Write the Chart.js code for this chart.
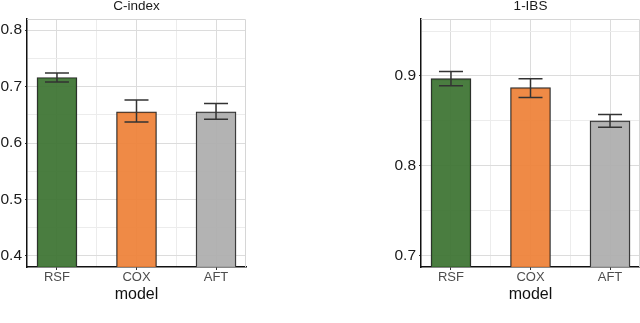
<!DOCTYPE html>
<html>
<head>
<meta charset="utf-8">
<script src="https://cdn.jsdelivr.net/npm/chart.js@4/dist/chart.umd.min.js"></script>
<style>
  html, body { margin: 0; padding: 0; background: #fff; }
  #wrap { position: relative; width: 640px; height: 323px; overflow: hidden; }
  .box { position: absolute; top: 0; height: 323px; }
  #left { left: 0; width: 260px; }
  #right { left: 380px; width: 260px; }
</style>
</head>
<body>
<div id="wrap">
  <div class="box" id="left"><canvas id="cindexChart"></canvas></div>
  <div class="box" id="right"><canvas id="ibsChart"></canvas></div>
</div>
<script>
const models = ["RSF", "COX", "AFT"];
const barColors = ["rgba(60,115,50,0.93)", "rgba(238,129,56,0.93)", "rgba(173,173,173,0.93)"];

const cindexMean = [0.716, 0.655, 0.655];
const cindexLow = [0.708, 0.637, 0.642];
const cindexHigh = [0.724, 0.676, 0.670];
const cindexTicks = [0.4, 0.45, 0.5, 0.55, 0.6, 0.65, 0.7, 0.75, 0.8];

const ibsMean = [0.897, 0.887, 0.850];
const ibsLow = [0.889, 0.876, 0.843];
const ibsHigh = [0.905, 0.897, 0.857];
const ibsTicks = [0.7, 0.75, 0.8, 0.85, 0.9, 0.95];

const xTicks = [0, 0.5, 1, 1.5, 2];
const FONT = "'Liberation Sans', Arial, sans-serif";

const isMajor = (v) => Math.abs(v * 10 - Math.round(v * 10)) < 1e-6;
const isWhole = (v) => Math.abs(v - Math.round(v)) < 1e-6;
const tickVal = (c) => (c && c.tick ? c.tick.value : 0);

// light panel border on top / right
const panelBorder = {
  id: "panelBorder",
  beforeDatasetsDraw(chart) {
    const { ctx, chartArea: a } = chart;
    ctx.save();
    ctx.strokeStyle = "#d6d6d6";
    ctx.lineWidth = 1;
    ctx.beginPath();
    ctx.moveTo(a.left, a.top + 0.5);
    ctx.lineTo(a.right - 0.5, a.top + 0.5);
    ctx.lineTo(a.right - 0.5, a.bottom);
    ctx.stroke();
    ctx.restore();
  },
};

// error bars from the low/high arrays
const errorBars = {
  id: "errorBars",
  afterDatasetsDraw(chart, args, opts) {
    const { ctx, scales } = chart;
    ctx.save();
    ctx.strokeStyle = "#333";
    ctx.lineWidth = 1.5;
    opts.low.forEach((lo, i) => {
      const x = scales.x.getPixelForValue(i);
      const y1 = scales.y.getPixelForValue(lo);
      const y2 = scales.y.getPixelForValue(opts.high[i]);
      ctx.beginPath();
      ctx.moveTo(x, y1);
      ctx.lineTo(x, y2);
      ctx.moveTo(x - 12, y1);
      ctx.lineTo(x + 12, y1);
      ctx.moveTo(x - 12, y2);
      ctx.lineTo(x + 12, y2);
      ctx.stroke();
    });
    ctx.restore();
  },
};

function makeChart(id, title, mean, low, high, yTicks, yMin, yMax, yWidth, padRight) {
  new Chart(document.getElementById(id), {
    type: "bar",
    data: {
      datasets: [
        {
          data: mean.map((v, i) => ({ x: i, y: v })),
          backgroundColor: barColors,
          borderColor: "#2b2b2b",
          borderWidth: 1.2,
          barThickness: 40,
          base: yMin,
        },
      ],
    },
    options: {
      responsive: true,
      maintainAspectRatio: false,
      animation: false,
      layout: { padding: { left: 0, right: padRight, top: 0, bottom: 0 } },
      plugins: {
        legend: { display: false },
        tooltip: { enabled: false },
        errorBars: { low, high },
      },
      scales: {
        x: {
          type: "linear",
          offset: false,
          min: -0.377,
          max: 2.377,
          afterBuildTicks: (s) => { s.ticks = xTicks.map((v) => ({ value: v })); },
          afterFit: (s) => { s.height = 56; },
          ticks: {
            autoSkip: false,
            padding: 0,
            color: "#4d4d4d",
            font: { family: FONT, size: 13 },
            callback: (v) => (isWhole(v) ? models[Math.round(v)] : ""),
          },
          grid: {
            offset: false,
            color: (c) => (isWhole(tickVal(c)) ? "#dcdcdc" : "#ececec"),
            tickColor: (c) => (isWhole(tickVal(c)) ? "#333" : "rgba(0,0,0,0)"),
            tickLength: 3,
          },
          border: { color: "#111", width: 1.5 },
          title: {
            display: true,
            text: "model",
            color: "#111",
            font: { family: FONT, size: 16 },
            padding: { top: 0, bottom: 19 },
          },
        },
        xTop: {
          type: "linear",
          position: "top",
          min: 0,
          max: 1,
          afterFit: (s) => { s.height = 19; },
          ticks: { display: false },
          grid: { display: false },
          border: { display: false },
          title: {
            display: true,
            text: title,
            color: "#1a1a1a",
            font: { family: FONT, size: 13.5 },
            padding: { top: -1.5, bottom: 0 },
          },
        },
        y: {
          min: yMin,
          max: yMax,
          afterBuildTicks: (s) => { s.ticks = yTicks.map((v) => ({ value: v })); },
          afterFit: (s) => { s.width = yWidth; },
          ticks: {
            autoSkip: false,
            padding: 3,
            color: "#1a1a1a",
            font: { family: FONT, size: 15.5 },
            callback: (v) => (isMajor(v) ? v.toFixed(1) : ""),
          },
          grid: {
            color: (c) => (isMajor(tickVal(c)) ? "#dcdcdc" : "#ececec"),
            tickColor: (c) => (isMajor(tickVal(c)) ? "#333" : "rgba(0,0,0,0)"),
            tickLength: 2,
          },
          border: { color: "#111", width: 1.5 },
        },
      },
    },
    plugins: [panelBorder, errorBars],
  });
}

makeChart("cindexChart", "C-index", cindexMean, cindexLow, cindexHigh, cindexTicks, 0.3805, 0.8195, 27, 14);
makeChart("ibsChart", "1-IBS", ibsMean, ibsLow, ibsHigh, ibsTicks, 0.6874, 0.9634, 41, 0);
</script>
</body>
</html>
